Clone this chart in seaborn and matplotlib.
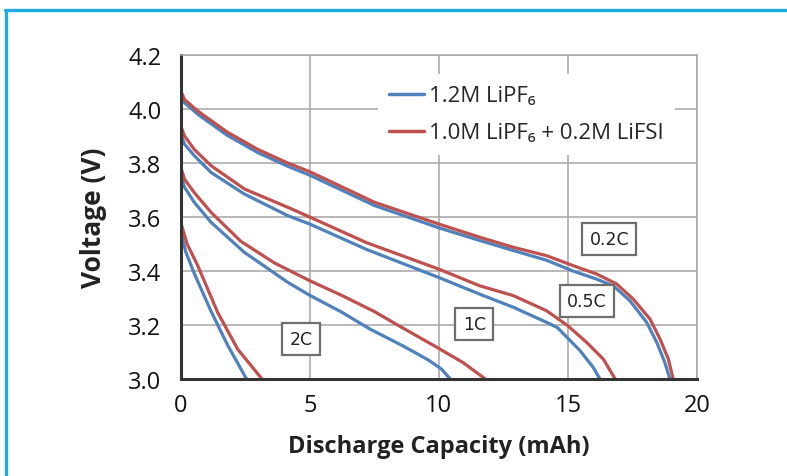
import pandas as pd
import matplotlib.pyplot as plt
import seaborn as sns
from matplotlib.lines import Line2D

# discharge curves: capacity (mAh) and voltage (V)
# 1.2M LiPF6 (blue)
cap_02c_a = [0, 0.15, 0.7, 1.8, 3.0, 4.15, 5, 7.5, 10, 11.59, 12.88, 14.17, 15.2, 16.11, 16.76,
             17.4, 18.05, 18.44, 18.76, 18.95]
volt_02c_a = [4.056, 4.023, 3.978, 3.903, 3.838, 3.788, 3.755, 3.643, 3.56, 3.513, 3.476, 3.44, 3.40,
              3.37, 3.345, 3.29, 3.21, 3.136, 3.06, 3.0]
cap_05c_a = [0, 0.15, 0.53, 1.18, 2.47, 4.15, 5, 7.2, 10, 11.59, 12.88, 14.17, 14.6, 15.47, 15.98, 16.24]
volt_05c_a = [3.907, 3.87, 3.827, 3.765, 3.685, 3.605, 3.574, 3.48, 3.376, 3.314, 3.266, 3.21, 3.19,
              3.105, 3.043, 3.0]
cap_1c_a = [0, 0.15, 0.53, 1.18, 2.47, 4.15, 5, 6.23, 7.33, 8.6, 9.6, 10.1, 10.44]
volt_1c_a = [3.757, 3.71, 3.654, 3.58, 3.469, 3.358, 3.31, 3.248, 3.185, 3.123, 3.07, 3.037, 3.0]
cap_2c_a = [0, 0.2, 0.53, 1.18, 1.82, 2.55]
volt_2c_a = [3.545, 3.47, 3.39, 3.25, 3.125, 3.0]

# 1.0M LiPF6 + 0.2M LiFSI (red)
cap_02c_b = [0, 0.15, 0.7, 1.8, 3.0, 4.15, 5, 7.5, 10, 11.59, 12.88, 14.17, 15.2, 16.11, 16.89,
             17.53, 18.18, 18.57, 18.89, 19.08]
volt_02c_b = [4.068, 4.035, 3.99, 3.915, 3.85, 3.80, 3.768, 3.655, 3.574, 3.525, 3.488, 3.457, 3.42,
              3.389, 3.352, 3.296, 3.222, 3.148, 3.074, 3.0]
cap_05c_b = [0, 0.15, 0.53, 1.18, 2.47, 4.15, 5, 7.2, 10, 11.59, 12.88, 14.17, 15.0, 15.72, 16.37, 16.83]
volt_05c_b = [3.938, 3.9, 3.85, 3.79, 3.704, 3.636, 3.60, 3.505, 3.407, 3.345, 3.309, 3.253, 3.197,
              3.136, 3.074, 3.0]
cap_1c_b = [0, 0.15, 0.53, 1.18, 2.33, 3.63, 5, 6.23, 7.5, 8.4, 9.93, 10.95, 11.8]
volt_1c_b = [3.784, 3.74, 3.69, 3.617, 3.51, 3.43, 3.364, 3.31, 3.25, 3.20, 3.117, 3.06, 3.0]
cap_2c_b = [0, 0.25, 0.66, 1.43, 2.21, 3.15]
volt_2c_b = [3.58, 3.50, 3.42, 3.247, 3.11, 3.0]

series_names = ["1.2M LiPF₆", "1.0M LiPF₆ + 0.2M LiFSI"]
rate_labels = ["0.2C", "0.5C", "1C", "2C"]
label_x = [16.6, 15.73, 11.37, 4.66]
label_y = [3.518, 3.289, 3.204, 3.148]

curves = [
    (series_names[0], "0.2C", cap_02c_a, volt_02c_a),
    (series_names[0], "0.5C", cap_05c_a, volt_05c_a),
    (series_names[0], "1C", cap_1c_a, volt_1c_a),
    (series_names[0], "2C", cap_2c_a, volt_2c_a),
    (series_names[1], "0.2C", cap_02c_b, volt_02c_b),
    (series_names[1], "0.5C", cap_05c_b, volt_05c_b),
    (series_names[1], "1C", cap_1c_b, volt_1c_b),
    (series_names[1], "2C", cap_2c_b, volt_2c_b),
]
rows = []
for name, rate, xs, ys in curves:
    for x, y in zip(xs, ys):
        rows.append({"electrolyte": name, "rate": rate, "capacity": x, "voltage": y})
df = pd.DataFrame(rows)

sns.set_style("white")
plt.rcParams["font.family"] = ["Open Sans", "DejaVu Sans"]

fig = plt.figure(figsize=(7.87, 4.77), dpi=100)
ax = fig.add_axes([0.2296, 0.2034, 0.656, 0.679])

ax.grid(True, color="#a6a6a6", lw=1.1)
ax.set_axisbelow(True)

sns.lineplot(data=df, x="capacity", y="voltage", hue="electrolyte", units="rate",
             estimator=None, sort=False, palette=["#4f81bd", "#c0504d"],
             lw=2.3, ax=ax)

ax.set_xlim(0, 20)
ax.set_ylim(3.0, 4.2)
ax.set_xticks([0, 5, 10, 15, 20])
ax.set_yticks([3.0, 3.2, 3.4, 3.6, 3.8, 4.0, 4.2])
ax.set_yticklabels([f"{v:.1f}" for v in [3.0, 3.2, 3.4, 3.6, 3.8, 4.0, 4.2]])
ax.tick_params(axis="both", length=0, labelsize=17, colors="#111111")
ax.tick_params(axis="y", pad=14)
ax.tick_params(axis="x", pad=10)

for side in ["left", "bottom"]:
    ax.spines[side].set_color("#333333")
    ax.spines[side].set_linewidth(2.2)
for side in ["top", "right"]:
    ax.spines[side].set_color("#a6a6a6")
    ax.spines[side].set_linewidth(1.1)

ax.set_xlabel("Discharge Capacity (mAh)", fontsize=17, fontweight="bold", color="#222222", labelpad=12)
ax.set_ylabel("Voltage (V)", fontsize=19, fontweight="bold", color="#222222", labelpad=15)

# rate labels in grey boxes
for txt, x, y in zip(rate_labels, label_x, label_y):
    ax.text(x, y, txt, ha="center", va="center", fontsize=12.5, color="#222222",
            family=["DejaVu Sans"],
            bbox=dict(boxstyle="square,pad=0.42", fc="white", ec="#6e6e6e", lw=1.6))

leg = ax.legend(loc="upper left", bbox_to_anchor=(0.36, 0.975), frameon=True,
                fontsize=16, handlelength=1.6, handletextpad=0.2, labelspacing=0.72,
                borderpad=0.5)
leg.get_frame().set_facecolor("white")
leg.get_frame().set_edgecolor("none")
leg.get_frame().set_alpha(1)
for h in leg.get_lines():
    h.set_linewidth(2.5)

# light blue frame lines at top and left of the figure
fig.add_artist(Line2D([5 / 787, 1], [1 - 10.5 / 477, 1 - 10.5 / 477], color="#1ea9e1", lw=2.4))
fig.add_artist(Line2D([6 / 787, 6 / 787], [0, 1 - 10.5 / 477], color="#1ea9e1", lw=2.4))

plt.savefig("out.png", dpi=100)
